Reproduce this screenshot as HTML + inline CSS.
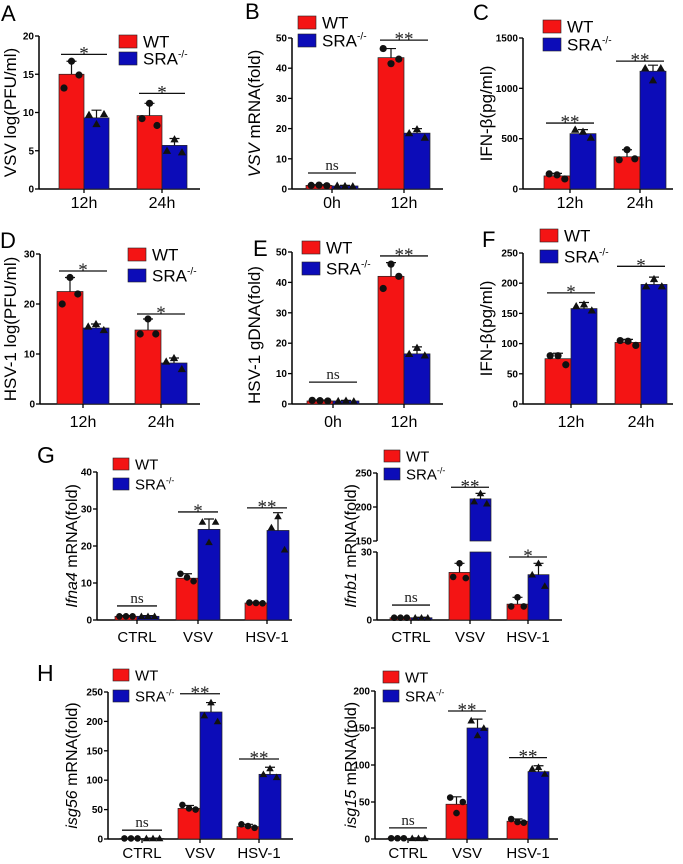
<!DOCTYPE html>
<html><head><meta charset="utf-8"><style>
html,body{margin:0;padding:0;background:#fff;}
svg{display:block;font-family:"Liberation Sans",sans-serif;}
</style></head><body>
<svg id="fig" width="683" height="864" viewBox="0 0 683 864"></svg>
<script>
// ---- data ----
const A_cats=['12h','24h'];
const A_wt=[15,9.6]; const A_ko=[9.3,5.7];
const A_wtPts=[[13.2,16.7,14.9],[9.2,11.2,8.3]]; const A_koPts=[[9.7,8.5,9.8],[5,6.5,4.8]];
const A_wtErr=[16.7,11.2]; const A_koErr=[10.3,6.6];
const A_sig=[17.6,12.5]; const A_sigLbl=['*','*'];
const A_ticks=[0,5,10,15,20];

const B_cats=['0h','12h'];
const B_wt=[1.2,43.5]; const B_ko=[1.0,18.5];
const B_wtPts=[[1.2,1.3,1.1],[46.5,41.5,43]]; const B_koPts=[[1.1,1.0,0.9],[18.5,19.8,17]];
const B_wtErr=[1.4,46.5]; const B_koErr=[1.2,20];
const B_sig=[5.3,49.3]; const B_sigLbl=['ns','**'];
const B_ticks=[0,10,20,30,40,50];

const C_cats=['12h','24h'];
const C_wt=[130,320]; const C_ko=[550,1170];
const C_wtPts=[[150,140,100],[290,390,300]]; const C_koPts=[[590,570,510],[1200,1080,1200]];
const C_wtErr=[155,390]; const C_koErr=[590,1230];
const C_sig=[655,1270]; const C_sigLbl=['**','**'];
const C_ticks=[0,500,1000,1500];

const D_cats=['12h','24h'];
const D_wt=[22.5,14.8]; const D_ko=[15.2,8.2];
const D_wtPts=[[20,25.3,22],[14,17,14]]; const D_koPts=[[15.5,16,14.8],[8.5,9.2,7]];
const D_wtErr=[25.3,17]; const D_koErr=[16,9.2];
const D_sig=[26.6,18]; const D_sigLbl=['*','*'];
const D_ticks=[0,10,20,30];

const E_cats=['0h','12h'];
const E_wt=[1.0,42]; const E_ko=[1.0,16.5];
const E_wtPts=[[1.2,1.1,1.0],[38,46,42]]; const E_koPts=[[1.0,1.1,0.9],[16.5,18.5,16]];
const E_wtErr=[1.3,46.5]; const E_koErr=[1.2,18.8];
const E_sig=[7.2,48.7]; const E_sigLbl=['ns','**'];
const E_ticks=[0,10,20,30,40,50];

const F_cats=['12h','24h'];
const F_wt=[75,102]; const F_ko=[158,198];
const F_wtPts=[[80,80,65],[105,104,97]]; const F_koPts=[[162,165,155],[195,207,195]];
const F_wtErr=[84,107]; const F_koErr=[168,210];
const F_sig=[184,228]; const F_sigLbl=['*','*'];
const F_ticks=[0,50,100,150,200,250];

const G1_cats=['CTRL','VSV','HSV-1'];
const G1_wt=[1,11.3,4.6]; const G1_ko=[1,24.5,24.2];
const G1_wtPts=[[1,1,1],[12.5,11.5,10.5],[4.7,4.6,4.5]]; const G1_koPts=[[1,1,1],[26.5,21,26.5],[25,28,19]];
const G1_wtErr=[1.2,12.5,4.8]; const G1_koErr=[1.2,27.3,29];
const G1_sig=[3.8,29.2,30.3]; const G1_sigLbl=['ns','*','**'];
const G1_ticks=[0,10,20,30,40];

const G2_cats=['CTRL','VSV','HSV-1'];
const G2_wt=[1,21,7]; const G2_ko=[1,212,20];
const G2_wtPts=[[1,1,1],[19,25,18.5],[6,10,6]]; const G2_koPts=[[1,1,1],[208,220,205],[20,25,15]];
const G2_wtErr=[1.2,25,10]; const G2_koErr=[1.2,220,25];
const G2_sig=[6.6,229,27.8]; const G2_sigLbl=['ns','**','*'];
const G2_ticks=[0,30,150,200,250];

const H1_cats=['CTRL','VSV','HSV-1'];
const H1_wt=[1,52,21]; const H1_ko=[1,216,110];
const H1_wtPts=[[1,1,1],[58,52,50],[25,22,19]]; const H1_koPts=[[1,1,1],[210,232,200],[110,120,105]];
const H1_wtErr=[1.5,57,25]; const H1_koErr=[1.5,232,122];
const H1_sig=[15,247,136]; const H1_sigLbl=['ns','**','**'];
const H1_ticks=[0,50,100,150,200,250];

const H2_cats=['CTRL','VSV','HSV-1'];
const H2_wt=[1,47,24]; const H2_ko=[1,150,91];
const H2_wtPts=[[1,1,1],[56,35,50],[27,23,22]]; const H2_koPts=[[1,1,1],[160,140,150],[95,97,88]];
const H2_wtErr=[1.5,57,27]; const H2_koErr=[1.5,162,99];
const H2_sig=[15,173,110]; const H2_sigLbl=['ns','**','**'];
const H2_ticks=[0,50,100,150,200];

// ---- drawing ----
const NS='http://www.w3.org/2000/svg';
const svg=document.getElementById('fig');
const RED='#f41414', BLUE='#0c0cb8';
function mk(tag,attrs,parent){const e=document.createElementNS(NS,tag);for(const k in attrs)e.setAttribute(k,attrs[k]);(parent||svg).appendChild(e);return e;}

function panel(c,cats,wt,ko,wtPts,koPts,wtErr,koErr,sig,sigLbl,ticks){
  const g=mk('g',{});
  
  
  const y=c.yfn?c.yfn:(v=>c.y0-v/c.max*(c.y0-c.yTop));
  if(c.letter){const t=mk('text',{x:c.letter[1],y:c.letter[2],'font-size':c.letter[3]||22},g);t.textContent=c.letter[0];
    
    }
  if(c.broken){
    const s1=mk('line',{x1:c.ax,x2:c.ax,y1:c.y0,y2:552,stroke:'#000','stroke-width':1.5},g);
    
    
    const s2=mk('line',{x1:c.ax,x2:c.ax,y1:541,y2:y(250),stroke:'#000','stroke-width':1.5},g);
    
    
  } else {
    const ya=mk('line',{x1:c.ax,x2:c.ax,y1:c.y0,y2:c.yTop,stroke:'#000','stroke-width':1.5},g);
    
    
  }
  const xa=mk('line',{x1:c.ax,x2:c.x1,y1:c.y0,y2:c.y0,stroke:'#000','stroke-width':1.5},g);
  
  
  ticks.forEach(v=>{
    const yy=y(v);
    const tl=mk('line',{x1:c.ax-4,x2:c.ax,y1:yy,y2:yy,stroke:'#000','stroke-width':1.3},g);
    
    
    const tt=mk('text',{x:c.ax-5,y:yy+3.5,'font-size':10,'font-weight':'bold','text-anchor':'end'},g);
    tt.textContent=v;
    
    
  });
  const ty=c.titleY!==undefined?c.titleY:(c.y0+(c.yTop))/2;
  const ti=mk('text',{x:0,y:0,'font-size':c.tfs||17,'text-anchor':'middle',transform:`translate(${c.titleX},${ty}) rotate(-90)`},g);
  c.title.forEach(p=>{const s=mk('tspan',{},ti);if(p[1])s.setAttribute('font-style','italic');s.textContent=p[0];});
  
  
  const bw=c.bw;
  cats.forEach((cat,i)=>{
    const cx=c.centers[i];
    [[wt[i],RED,-1,wtPts[i],wtErr[i],'wt'],[ko[i],BLUE,0,koPts[i],koErr[i],'ko']].forEach(s=>{
      const x0=cx+s[2]*bw, val=s[0];
      if(c.broken && val>150){
        const r1=mk('rect',{x:x0,y:552,width:bw,height:c.y0-552,fill:s[1],stroke:'#222','stroke-width':0.7},g);
        
        
        const r2=mk('rect',{x:x0,y:y(val),width:bw,height:541-y(val),fill:s[1],stroke:'#222','stroke-width':0.7},g);
        
        
      } else {
        const r=mk('rect',{x:x0,y:y(val),width:bw,height:c.y0-y(val),fill:s[1],stroke:'#222','stroke-width':0.7},g);
        
        
      }
      const bx=x0+bw/2;
      const eb=mk('path',{d:`M${bx},${y(val)}V${y(s[4])}M${bx-5},${y(s[4])}H${bx+5}`,stroke:'#111','stroke-width':1.2,fill:'none'},g);
      
      
      s[3].forEach((p,k)=>{
        const px=bx+(k-1)*bw*0.3, py=y(p);
        let m;
        if(s[5]==='wt'){m=mk('circle',{cx:px,cy:py,r:c.mr||3.6,fill:'#111'},g);}
        else {const r=(c.mr||3.6)*1.15;m=mk('path',{d:`M${px},${py-r}L${px+r},${py+r*0.75}L${px-r},${py+r*0.75}Z`,fill:'#111'},g);}
        
        
      });
    });
    const tk=mk('line',{x1:cx,x2:cx,y1:c.y0,y2:c.y0+4,stroke:'#000','stroke-width':1.3},g);
    
    
    const cl=mk('text',{x:cx,y:c.catY+5,'font-size':c.cfs||16,'text-anchor':'middle'},g);
    cl.textContent=cat;
    
    
    const sy=y(sig[i]);
    const sl=mk('line',{x1:cx-bw+2,x2:cx+bw-2,y1:sy,y2:sy,stroke:'#111','stroke-width':1.3},g);
    
    
    const isNs=sigLbl[i]==='ns';
    const st=mk('text',{x:cx,y:isNs?sy-3:sy+5,'font-size':isNs?15:19,'text-anchor':'middle','font-family':'"Liberation Serif",serif',fill:'#222'},g);
    st.textContent=sigLbl[i];
    
    
  });
  const L=c.leg;
  [['WT',RED],['SRA',BLUE]].forEach((e,k)=>{
    const yy=L.y+k*L.gap;
    const r=mk('rect',{x:L.x,y:yy,width:L.w,height:L.h,fill:e[1],stroke:'#222','stroke-width':0.6},g);
    
    
    const t=mk('text',{x:L.x+L.w+6,y:yy+L.h-0.5,'font-size':L.fs},g);
    t.textContent=e[0];
    if(k===1){const sp=mk('tspan',{'font-size':L.fs*0.6,dy:-L.fs*0.4},t);sp.textContent='-/-';}
    
    
  });
}

const legTop=(x,y,gap)=>({x:x,y:y,w:18,h:13,fs:17,gap:gap});
const legBot=(x,y,gap)=>({x:x,y:y,w:16,h:12,fs:15,gap:gap});

panel({name:'panel-a',ax:39,x1:200,y0:189,yTop:36,max:20,centers:[84,162],bw:25,catY:203,titleX:16,title:[['VSV log(PFU/ml)',0]],leg:legTop(119,35,17),letter:['A',1,21]},A_cats,A_wt,A_ko,A_wtPts,A_koPts,A_wtErr,A_koErr,A_sig,A_sigLbl,A_ticks);
panel({name:'panel-b',ax:292,x1:443,y0:189,yTop:38,max:50,centers:[332,404],bw:26,catY:203,titleX:260,title:[['VSV',1],[' mRNA(fold)',0]],leg:legTop(298,16,18),letter:['B',245,19]},B_cats,B_wt,B_ko,B_wtPts,B_koPts,B_wtErr,B_koErr,B_sig,B_sigLbl,B_ticks);
panel({name:'panel-c',ax:523,x1:673,y0:189,yTop:38,max:1500,centers:[570,640],bw:26,catY:203,titleX:492,title:[['IFN-β(pg/ml)',0]],leg:legTop(543,20,18),letter:['C',473,20]},C_cats,C_wt,C_ko,C_wtPts,C_koPts,C_wtErr,C_koErr,C_sig,C_sigLbl,C_ticks);
panel({name:'panel-d',ax:40,x1:200,y0:404,yTop:254,max:30,centers:[83,161],bw:26,catY:422,titleX:16,title:[['HSV-1 log(PFU/ml)',0]],leg:legTop(128,248,21),letter:['D',0,248]},D_cats,D_wt,D_ko,D_wtPts,D_koPts,D_wtErr,D_koErr,D_sig,D_sigLbl,D_ticks);
panel({name:'panel-e',ax:292,x1:443,y0:404,yTop:252,max:50,centers:[333,404],bw:26,catY:422,titleX:260,titleY:335,title:[['HSV-1 gDNA(fold)',0]],leg:legTop(302,241,21),letter:['E',253,256]},E_cats,E_wt,E_ko,E_wtPts,E_koPts,E_wtErr,E_koErr,E_sig,E_sigLbl,E_ticks);
panel({name:'panel-f',ax:523,x1:673,y0:404,yTop:253,max:250,centers:[571,641],bw:26,catY:422,titleX:492,title:[['IFN-β(pg/ml)',0]],leg:legTop(540,229,21),letter:['F',482,247]},F_cats,F_wt,F_ko,F_wtPts,F_koPts,F_wtErr,F_koErr,F_sig,F_sigLbl,F_ticks);
panel({name:'panel-g-ifna4',ax:97,x1:292,y0:620,yTop:472,max:40,centers:[137,198,267],bw:22,catY:637,cfs:15,mr:3.3,titleX:77,tfs:16,title:[['Ifna4',1],[' mRNA(fold)',0]],leg:legBot(113,458,20),letter:['G',37,463,23]},G1_cats,G1_wt,G1_ko,G1_wtPts,G1_koPts,G1_wtErr,G1_koErr,G1_sig,G1_sigLbl,G1_ticks);
panel({name:'panel-g-ifnb1',ax:377,x1:562,y0:620,yTop:473,broken:true,yfn:(v=>v<=30?620-v*68/30:541-(v-150)*0.68),centers:[411,470,528],bw:21,catY:637,cfs:15,mr:3.3,titleX:356,titleY:546,tfs:16,title:[['Ifnb1',1],[' mRNA(fold)',0]],leg:legBot(384,450,18)},G2_cats,G2_wt,G2_ko,G2_wtPts,G2_koPts,G2_wtErr,G2_koErr,G2_sig,G2_sigLbl,G2_ticks);
panel({name:'panel-h-isg56',ax:108,x1:293,y0:839,yTop:692,max:250,centers:[142,200,259],bw:22,catY:853,cfs:15,mr:3.3,titleX:77,tfs:16,title:[['isg56',1],[' mRNA(fold)',0]],leg:legBot(113,669,21),letter:['H',37,681,23]},H1_cats,H1_wt,H1_ko,H1_wtPts,H1_koPts,H1_wtErr,H1_koErr,H1_sig,H1_sigLbl,H1_ticks);
panel({name:'panel-h-isg15',ax:375,x1:558,y0:839,yTop:691,max:200,centers:[408,467,528],bw:21,catY:853,cfs:15,mr:3.3,titleX:356,tfs:16,title:[['isg15',1],[' mRNA(fold)',0]],leg:legBot(383,671,19)},H2_cats,H2_wt,H2_ko,H2_wtPts,H2_koPts,H2_wtErr,H2_koErr,H2_sig,H2_sigLbl,H2_ticks);
</script>
</body></html>
